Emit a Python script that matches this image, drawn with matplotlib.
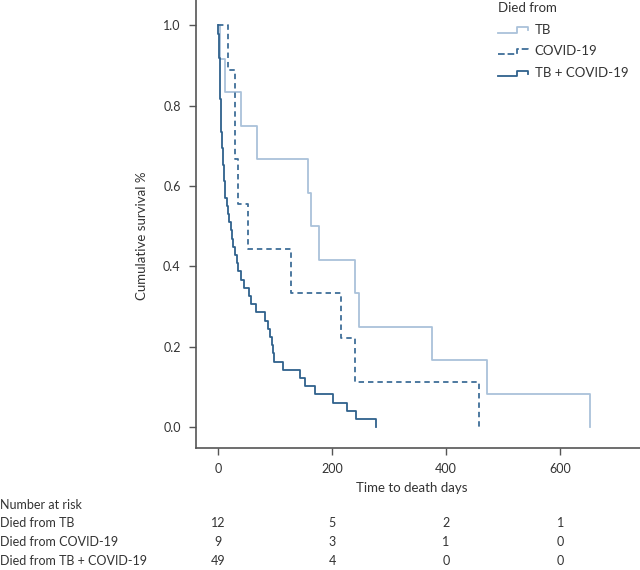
import numpy as np
import matplotlib
matplotlib.use("Agg")
import matplotlib.pyplot as plt
from matplotlib.lines import Line2D
from matplotlib.legend_handler import HandlerBase
import matplotlib.transforms as mtransforms

plt.rcParams['font.family'] = ['Lato', 'DejaVu Sans']

# days to death for each patient
tb_days = [3, 12, 40, 68, 158, 163, 177, 241, 247, 376, 472, 653]
covid_days = [18, 30, 30, 35, 53, 128, 216, 240, 458]
both_days = [0, 1, 2, 2, 3, 3, 3, 4, 4, 5, 5, 6, 6, 7, 7, 8, 9, 10, 11, 12,
             13, 15, 17, 20, 22, 24, 27, 30, 33, 35, 40, 46, 55, 58, 66, 83,
             88, 91, 94, 96, 98, 114, 144, 153, 170, 202, 227, 242, 277]

group_names = ["TB", "COVID-19", "TB + COVID-19"]
risk_times = [0, 200, 400, 600]
risk_tb = [12, 5, 2, 1]
risk_covid = [9, 3, 1, 0]
risk_both = [49, 4, 0, 0]


def km(days):
    t, d = np.unique(days, return_counts=True)
    n = len(days)
    at_risk = n - np.concatenate([[0], np.cumsum(d)[:-1]])
    s = np.cumprod(1 - d / at_risk)
    return np.concatenate([[0], t]), np.concatenate([[1.0], s])


class StepHandler(HandlerBase):
    # little step-shaped legend key, like the reference
    def create_artists(self, legend, orig, xd, yd, w, h, fontsize, trans):
        xs = [0, 0.62 * w, 0.62 * w, w, w]
        ys = [0.1 * h, 0.1 * h, 0.7 * h, 0.7 * h, 0.4 * h]
        ln = Line2D(np.array(xs) - xd, np.array(ys) - yd,
                    color=orig.get_color(), lw=orig.get_linewidth(),
                    linestyle=orig.get_linestyle(), transform=trans)
        return [ln]


colors = ['#aac2da', '#3f6e99', '#2f618c']
styles = ['-', (0, (3, 2.2)), '-']

fig = plt.figure(figsize=(6.4, 5.7), dpi=100)
ax = fig.add_axes([196 / 640, 1 - 448 / 570, 444 / 640, 448 / 570])

lines = []
for days, name, c, ls in zip([tb_days, covid_days, both_days], group_names, colors, styles):
    t, s = km(days)
    ln, = ax.step(t, s, where='post', color=c, lw=1.3, linestyle=ls, label=name)
    lines.append(ln)

ax.set_xlim(-38.5, 740)
ax.set_ylim(-0.052, 1.063)
ax.set_xticks(risk_times)
ax.set_yticks([0, 0.2, 0.4, 0.6, 0.8, 1.0])
ax.set_yticklabels(["0.0", "0.2", "0.4", "0.6", "0.8", "1.0"])
for sp in ['top', 'right']:
    ax.spines[sp].set_visible(False)
for sp in ['left', 'bottom']:
    ax.spines[sp].set_color('#555555')
    ax.spines[sp].set_linewidth(1.2)
ax.tick_params(direction='out', length=5, width=1, color='#555555',
               labelsize=9, labelcolor='#333333', pad=6)

fig.text(142 / 640, 1 - 236 / 570, "Cumulative survival %", rotation=90,
         ha='center', va='center', fontsize=9.5, color='#333333')
fig.text(412 / 640, 1 - 488 / 570, "Time to death days",
         ha='center', va='center', fontsize=9.5, color='#333333')

leg = fig.legend(lines, group_names, title="Died from", loc='upper left',
                 bbox_to_anchor=(486 / 640, 1.018), frameon=False, fontsize=9.5,
                 title_fontsize=9.5, handler_map={Line2D: StepHandler()},
                 handlelength=2.3, handletextpad=0.5, labelspacing=0.75)
leg._legend_box.align = 'left'
for txt in leg.get_texts():
    txt.set_color('#333333')
leg.get_title().set_color('#333333')

# number at risk table
trans = mtransforms.blended_transform_factory(ax.transData, fig.transFigure)
fig.text(0.0, 1 - 505 / 570, "Number at risk", ha='left', va='center',
         fontsize=9, color='#333333')
rows = [("Died from TB", risk_tb), ("Died from COVID-19", risk_covid),
        ("Died from TB + COVID-19", risk_both)]
row_y = [523, 542, 561]
for (label, vals), yy in zip(rows, row_y):
    fig.text(0.0, 1 - yy / 570, label, ha='left', va='center',
             fontsize=9, color='#333333')
    for tx, v in zip(risk_times, vals):
        ax.text(tx, 1 - yy / 570, str(v), transform=trans, ha='center',
                va='center', fontsize=9, color='#333333')

fig.savefig("out.png", dpi=100)
